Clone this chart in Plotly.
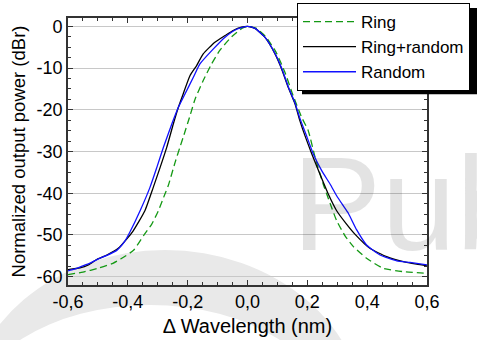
import plotly.graph_objects as go

# ---- data ----
ring_x = [-0.6, -0.55, -0.5, -0.45, -0.42, -0.38, -0.348, -0.32, -0.298, -0.276, -0.265,
          -0.242, -0.226, -0.215, -0.192, -0.175, -0.148, -0.12, -0.092, -0.053, -0.019,
          0.0, 0.03, 0.06, 0.094, 0.125, 0.152, 0.181, 0.203, 0.226, 0.253, 0.276, 0.298,
          0.326, 0.354, 0.398, 0.454, 0.521, 0.6]
ring_y = [-59.5, -58.9, -58.0, -56.8, -55.6, -53.6, -50.2, -47.4, -44.2, -40.2, -38.2,
          -32.6, -29.0, -26.6, -21.4, -17.4, -13.0, -9.0, -5.7, -2.5, -0.5,
          0.0, -0.5, -2.4, -6.0, -11.0, -16.5, -21.8, -25.0, -31.4, -37.8, -42.4, -46.6,
          -50.2, -52.8, -55.6, -58.0, -58.8, -59.2]

ringrand_x = [-0.6, -0.56, -0.532, -0.504, -0.47, -0.432, -0.404, -0.382, -0.343, -0.315,
              -0.292, -0.27, -0.248, -0.231, -0.215, -0.192, -0.17, -0.148, -0.109, -0.075,
              -0.048, -0.02, 0.0, 0.025, 0.058, 0.092, 0.114, 0.136, 0.159, 0.175, 0.192,
              0.215, 0.242, 0.27, 0.298, 0.331, 0.359, 0.409, 0.465, 0.521, 0.565, 0.6]
ringrand_y = [-58.3, -57.9, -57.2, -55.9, -54.8, -53.2, -51.0, -49.0, -44.2, -38.6,
              -33.8, -29.0, -23.4, -19.4, -16.2, -11.8, -9.4, -6.6, -3.8, -2.2,
              -1.0, -0.2, 0.0, -0.5, -2.6, -6.6, -10.2, -14.6, -18.6, -22.6, -26.2,
              -30.6, -35.4, -40.2, -44.2, -47.4, -49.8, -53.2, -55.2, -56.4, -57.0, -57.4]

random_x = [-0.6, -0.588, -0.56, -0.53, -0.5, -0.47, -0.437, -0.41, -0.393, -0.359, -0.326,
            -0.303, -0.281, -0.253, -0.231, -0.209, -0.181, -0.159, -0.114, -0.075, -0.036,
            0.0, 0.025, 0.058, 0.092, 0.114, 0.136, 0.159, 0.175, 0.195, 0.22, 0.248, 0.276,
            0.298, 0.32, 0.337, 0.365, 0.398, 0.443, 0.499, 0.543, 0.6]
random_y = [-58.6, -58.4, -57.7, -56.9, -55.8, -54.9, -53.7, -51.5, -49.3, -44.2, -38.6,
            -33.8, -29.0, -23.4, -19.4, -16.2, -12.2, -9.0, -5.4, -2.6, -0.7,
            0.0, -0.5, -2.6, -6.5, -10.0, -14.4, -18.4, -22.0, -25.8, -30.6, -34.6, -37.8,
            -40.6, -43.0, -44.8, -48.8, -52.4, -54.8, -56.2, -56.6, -57.2]

series_names = ["Ring", "Ring+random", "Random"]

x_tick_vals = [-0.6, -0.4, -0.2, 0.0, 0.2, 0.4, 0.6]
x_tick_text = ["-0,6", "-0,4", "-0,2", "0,0", "0,2", "0,4", "0,6"]
y_tick_vals = [0, -10, -20, -30, -40, -50, -60]
y_tick_text = ["0", "-10", "-20", "-30", "-40", "-50", "-60"]

x_title = "Δ Wavelength (nm)"
y_title = "Normalized output power (dBr)"
watermark = "Pub"

# ---- layout geometry ----
W, H = 477, 340
ML, MR, MT, MB = 68, 50, 18, 55
PW, PH = W - ML - MR, H - MT - MB


def pxx(p):
    return (p - ML) / PW


def pxy(p):
    return (H - MB - p) / PH


FONT = "Arial, 'Liberation Sans', sans-serif"
AX = "#333333"
LEG_FONT = 17
LEG_TOP = 3
LEG_LEFT = 297

fig = go.Figure()
fig.add_trace(go.Scatter(x=ring_x, y=ring_y, mode="lines", name=series_names[0],
                         line=dict(color="#149914", width=1.3, dash="7px,4px",
                                   shape="spline", smoothing=0.5)))
fig.add_trace(go.Scatter(x=ringrand_x, y=ringrand_y, mode="lines", name=series_names[1],
                         line=dict(color="#000000", width=1.3,
                                   shape="spline", smoothing=0.5)))
fig.add_trace(go.Scatter(x=random_x, y=random_y, mode="lines", name=series_names[2],
                         line=dict(color="#1010ff", width=1.3,
                                   shape="spline", smoothing=0.5)))

# legend box height as plotly lays it out (rows of font*1.3+3 plus padding)
leg_bottom = LEG_TOP + 3 * (LEG_FONT * 1.3 + 3) + 11

shapes = [
    # watermark ring (outer gray, inner white)
    dict(type="circle", xref="paper", yref="paper", layer="below",
         x0=pxx(-35), x1=pxx(365), y0=pxy(590), y1=pxy(250),
         fillcolor="#e9e9e9", line=dict(width=0)),
    dict(type="circle", xref="paper", yref="paper", layer="below",
         x0=pxx(-31), x1=pxx(331), y0=pxy(535), y1=pxy(305),
         fillcolor="#ffffff", line=dict(width=0)),
    # legend shadow
    dict(type="rect", xref="paper", yref="paper", layer="above",
         x0=pxx(LEG_LEFT + 5), x1=pxx(478), y0=pxy(leg_bottom + 5), y1=pxy(LEG_TOP + 5),
         fillcolor="#000000", line=dict(width=0)),
]

fig.update_layout(
    width=W, height=H,
    margin=dict(l=ML, r=MR, t=MT, b=MB, pad=0, autoexpand=False),
    paper_bgcolor="white", plot_bgcolor="rgba(0,0,0,0)",
    font=dict(family=FONT, size=18, color="black"),
    shapes=shapes,
    showlegend=True,
    legend=dict(x=pxx(LEG_LEFT), y=pxy(LEG_TOP), xanchor="left", yanchor="top",
                bgcolor="white", bordercolor="black", borderwidth=1,
                font=dict(family=FONT, size=LEG_FONT, color="black"),
                itemwidth=53, tracegroupgap=0),
    annotations=[dict(text=watermark, xref="paper", yref="paper",
                      x=pxx(290), y=pxy(203), xanchor="left", yanchor="middle",
                      showarrow=False,
                      font=dict(family=FONT, size=134, color="rgba(0,0,0,0.11)"))],
)

fig.update_xaxes(
    range=[-0.6, 0.6], showgrid=False, zeroline=False,
    showline=True, linecolor=AX, linewidth=1.6, mirror="ticks",
    ticks="inside", ticklen=5, tickwidth=1.4, tickcolor=AX,
    tickmode="array", tickvals=x_tick_vals, ticktext=x_tick_text,
    tickfont=dict(size=18, color="black"),
    minor=dict(ticks="inside", ticklen=3, tickwidth=1.2, tickcolor=AX,
               tickmode="linear", tick0=0, dtick=0.05, showgrid=False),
    title=dict(text=x_title, font=dict(size=20, color="black"), standoff=8),
    automargin=False,
)
fig.update_yaxes(
    range=[-62, 2], showgrid=True, gridcolor="#c8c8c8", gridwidth=1, zeroline=False,
    showline=True, linecolor=AX, linewidth=1.6, mirror="ticks",
    ticks="inside", ticklen=5, tickwidth=1.4, tickcolor=AX,
    tickmode="array", tickvals=y_tick_vals, ticktext=y_tick_text,
    tickfont=dict(size=18, color="black"),
    minor=dict(ticks="inside", ticklen=3, tickwidth=1.2, tickcolor=AX,
               tickmode="linear", tick0=0, dtick=2.5, showgrid=False),
    title=dict(text=y_title, font=dict(size=18.5, color="black"), standoff=6),
    automargin=False,
)

fig.write_html("out.html", config={"displayModeBar": False})
